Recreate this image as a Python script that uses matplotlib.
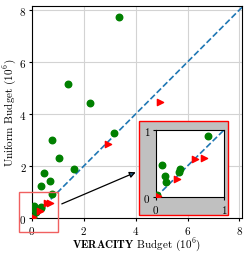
import matplotlib
matplotlib.use('Agg')
import matplotlib.pyplot as plt
from matplotlib.patches import Rectangle

plt.rcParams['font.family'] = 'serif'
plt.rcParams['font.serif'] = ['cmr10']
plt.rcParams['mathtext.fontset'] = 'cm'
plt.rcParams['axes.formatter.use_mathtext'] = True
plt.rcParams['font.size'] = 8

# budgets in millions
ver_uniform = [3.35, 1.40, 2.23, 0.78, 1.05, 1.62, 0.46, 0.69, 0.33, 3.15, 0.76,
               0.09, 0.13, 0.14, 0.35, 0.34, 0.02]
uniform = [7.72, 5.17, 4.41, 3.00, 2.30, 1.87, 1.72, 1.43, 1.24, 3.26, 0.91,
           0.48, 0.32, 0.22, 0.42, 0.37, 0.03]
ver_other = [4.92, 2.94, 0.58, 0.70, 0.31, 0.03]
other = [4.47, 2.83, 0.57, 0.58, 0.27, 0.02]

main_lim = 8.1
zoom_lim = 1.0

fig = plt.figure(figsize=(2.49, 2.55), dpi=100)
ax = fig.add_axes([32/249, 36/255, 210/249, 212/255])
ax.grid(True, color='lightgray', linewidth=0.8, zorder=0)
ax.set_axisbelow(True)
ax.plot([0, main_lim], [0, main_lim], '--', color='C0', linewidth=1.2, zorder=2)
ax.scatter(ver_uniform, uniform, s=22, color='green', zorder=3)
ax.scatter(ver_other, other, s=20, marker='>', color='red', zorder=3)
ax.set_xlim(0, main_lim)
ax.set_ylim(0, 8.15)
ax.set_xticks([0, 2, 4, 6, 8])
ax.set_yticks([0, 2, 4, 6, 8])
ax.set_xlabel(r'$\mathbf{VERACITY}$ Budget ($10^6$)', labelpad=0)
ax.set_ylabel(r'Uniform Budget ($10^6$)', labelpad=1)
ax.tick_params(length=2.5, pad=1.5)

# zoom region marker
ax.add_patch(Rectangle((-0.52, -0.52), 1.52, 1.52, fill=False, edgecolor='#f06060',
                       linewidth=1, clip_on=False, zorder=4))
ax.annotate('', xy=(4.1, 1.8), xytext=(1.05, 0.5),
            arrowprops=dict(arrowstyle='-|>', ec='k', fc='#1f5f8f', lw=0.9,
                            mutation_scale=9),
            zorder=5)

# gray backdrop behind inset
fig.patches.append(Rectangle((139/249, 39/255), 89/249, 94/255, transform=fig.transFigure,
                             facecolor='#c0c0c0', edgecolor='red', linewidth=1, zorder=6))

ins = fig.add_axes([156/249, 57/255, 68/249, 67/255])
ins.set_zorder(7)
ins.plot([0, zoom_lim], [0, zoom_lim], '--', color='C0', linewidth=1.2, zorder=2)
ins.scatter(ver_uniform, uniform, s=22, color='green', zorder=3)
ins.scatter(ver_other, other, s=20, marker='>', color='red', zorder=3)
ins.set_xlim(0, zoom_lim)
ins.set_ylim(0, zoom_lim)
ins.set_xticks([0, 1])
ins.set_yticks([0, 1])
ins.tick_params(length=2.5, pad=1.5)

fig.savefig('out.png', dpi=100)
